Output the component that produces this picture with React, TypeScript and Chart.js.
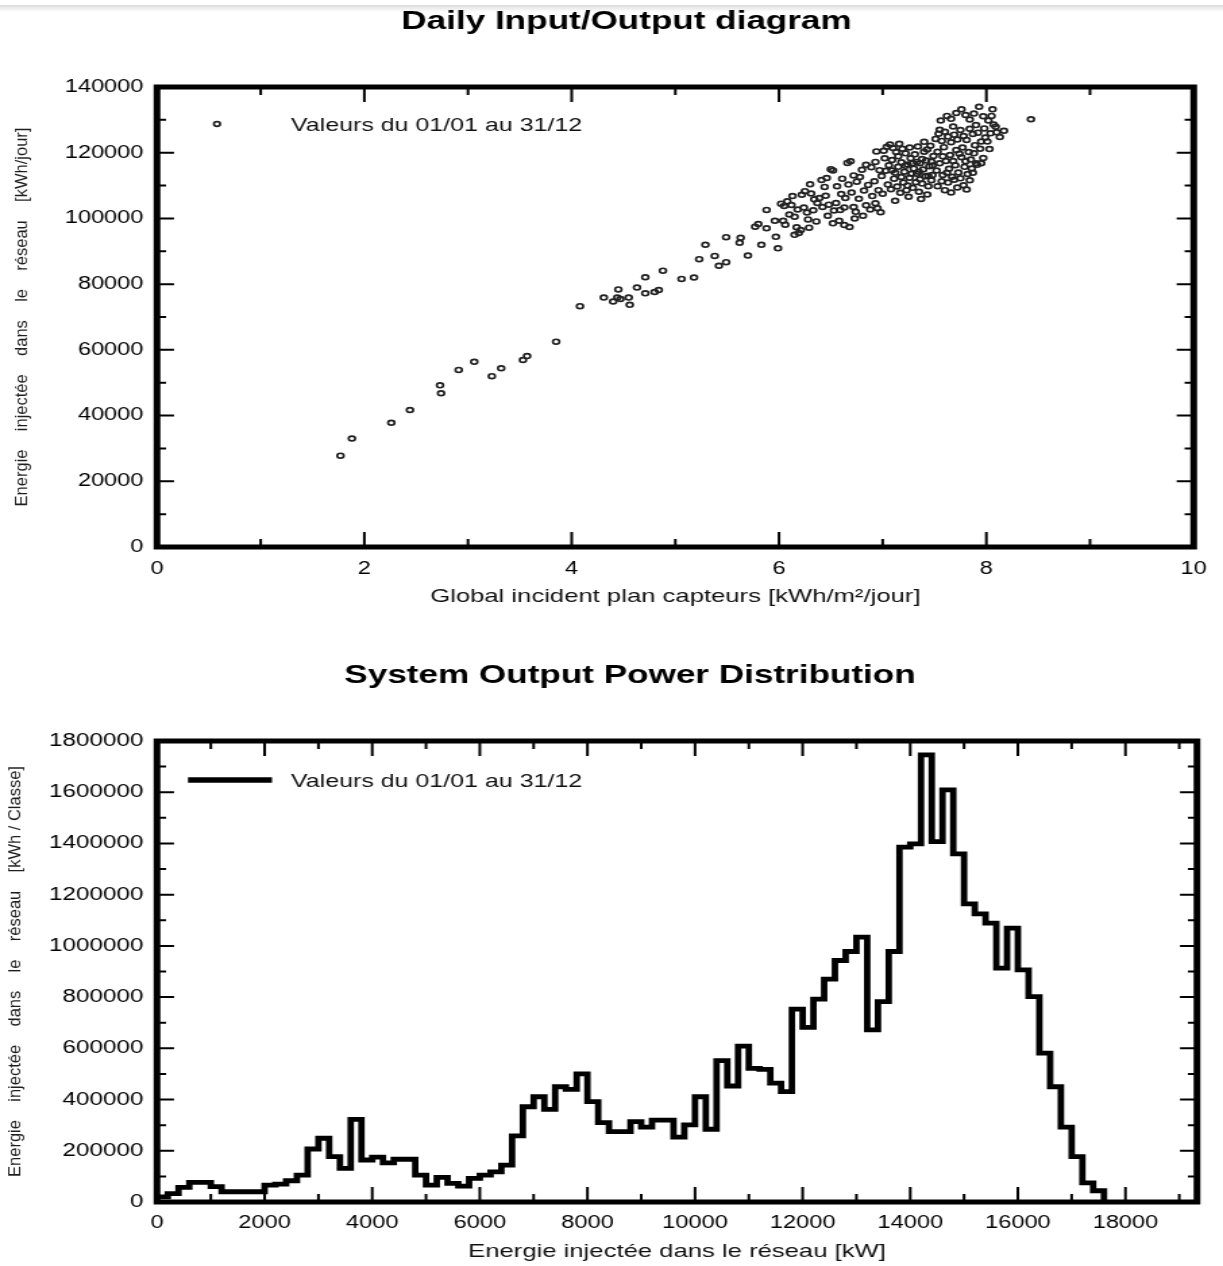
import React, { useEffect, useRef } from "react";
import { Chart, registerables } from "chart.js";

Chart.register(...registerables);

const PAGE_W = 1223;
const INNER_W = 906;
const SX = PAGE_W / INNER_W;
const ix = (px: number) => px / SX;
const FONT = "'Liberation Sans', Arial, Helvetica, sans-serif";

// ---------------- Daily Input/Output diagram ----------------
const dailyTitle = "Daily Input/Output diagram";
const dailyXTitle = "Global incident plan capteurs [kWh/m²/jour]";
const dailyYTitle = "Energie    injectée    dans    le    réseau    [kWh/jour]";
const legendLabel = "Valeurs du 01/01 au 31/12";
const dailyXTicks = [0, 2, 4, 6, 8, 10];
const dailyYTicks = [0, 20000, 40000, 60000, 80000, 100000, 120000, 140000];

// [global incident kWh/m²/day, energy injected kWh/day]
const sparseDays: [number, number][] = [
  [1.77, 27800], [1.88, 33000], [2.26, 37800], [2.44, 41700], [2.73, 49200], [2.74, 46800],
  [2.91, 53900], [3.06, 56400], [3.23, 52000], [3.32, 54400], [3.53, 56900], [3.57, 58100],
  [3.85, 62500], [4.08, 73300], [4.31, 75900], [4.40, 74700], [4.45, 78400], [4.44, 75900],
  [4.47, 75500], [4.55, 75900], [4.56, 73700], [4.63, 79000], [4.71, 82100], [4.71, 77200],
  [4.80, 77600], [4.84, 78200], [4.88, 84100], [5.06, 81600], [5.18, 82000], [5.23, 87600],
  [5.29, 92000], [5.38, 88600], [5.42, 85600], [5.49, 86700], [5.49, 94300], [5.62, 92600],
  [5.63, 94100], [5.70, 88700], [5.77, 97500], [5.80, 98300], [5.83, 92000], [5.88, 102600],
  [5.88, 97000], [5.96, 99300], [5.97, 94400], [5.99, 90900],
];
const band60: [number, number][] = [
  [6.02, 104500], [6.05, 103800], [6.08, 105200], [6.12, 104100], [6.04, 99300], [6.06, 98100],
  [6.15, 100500], [6.17, 97300], [6.19, 95600], [6.15, 95000], [6.21, 96500], [6.22, 107200],
  [6.25, 108300], [6.31, 107600], [6.28, 99700], [6.29, 97200], [6.27, 101800], [6.34, 105800],
  [6.37, 104700], [6.39, 106200], [6.41, 111700], [6.44, 109600], [6.46, 112300], [6.50, 115000],
  [6.52, 114600], [6.33, 102500], [6.36, 99100], [6.42, 103500], [6.45, 106900], [6.48, 104200],
  [6.10, 101200], [6.24, 103300], [6.13, 106800], [6.18, 102700], [6.30, 110400], [6.47, 100800],
];
const band65: [number, number][] = [
  [6.52, 98500], [6.58, 99300], [6.63, 98000], [6.68, 97400], [6.73, 100000], [6.55, 104700],
  [6.60, 107400], [6.64, 106200], [6.70, 107900], [6.66, 116900], [6.69, 117400], [6.72, 113100],
  [6.75, 111200], [6.78, 112600], [6.72, 103500], [6.74, 102000], [6.80, 114800], [6.84, 116300],
  [6.89, 115600], [6.93, 117200], [6.97, 114700], [6.86, 110200], [6.90, 106800], [6.93, 104600],
  [6.95, 103100], [6.98, 101900], [6.88, 102700], [6.96, 108600], [7.00, 107500], [6.82, 108500],
  [6.56, 109800], [6.61, 112100], [6.67, 110300], [6.77, 106000], [6.84, 104000], [6.92, 111300],
  [6.99, 112900], [6.53, 102400], [6.59, 102600], [6.81, 100800], [6.94, 120400], [6.63, 103300],
];
const band70: [number, number][] = [
  [7.01, 120600], [7.04, 121800], [7.07, 122500], [7.10, 121400], [7.13, 120200], [7.16, 122700],
  [7.19, 121200], [7.22, 119800], [7.26, 121600], [7.03, 114500], [7.06, 116200], [7.09, 117800],
  [7.12, 113900], [7.15, 115700], [7.18, 117100], [7.21, 114200], [7.24, 116400], [7.27, 118300],
  [7.30, 115200], [7.33, 113600], [7.36, 116800], [7.39, 114900], [7.42, 117600], [7.45, 115900],
  [7.48, 113200], [7.05, 110300], [7.08, 108900], [7.11, 112100], [7.14, 109700], [7.17, 107800],
  [7.20, 110900], [7.23, 108600], [7.26, 112400], [7.29, 109300], [7.32, 111000], [7.35, 108100],
  [7.38, 110600], [7.41, 112800], [7.44, 109800], [7.47, 111600], [7.12, 105400], [7.25, 106600],
  [7.37, 105900], [7.43, 107300], [7.31, 119500], [7.34, 121900], [7.40, 120300], [7.46, 122100],
  [7.49, 119000], [7.02, 118300], [7.28, 113600], [7.33, 117200], [7.44, 113000], [7.36, 111900],
  [7.18, 112600], [7.22, 116000], [7.15, 118900], [7.47, 117300], [7.09, 114600], [7.40, 123300],
  [7.24, 110000], [7.29, 116800], [7.38, 118100], [7.43, 121000], [7.48, 116100], [7.35, 114200],
];
const band75: [number, number][] = [
  [7.51, 124200], [7.54, 125800], [7.57, 123600], [7.60, 126400], [7.63, 124900], [7.66, 123200],
  [7.69, 125500], [7.72, 124000], [7.75, 126900], [7.78, 125100], [7.81, 123900], [7.84, 127300],
  [7.87, 125700], [7.90, 128400], [7.56, 129800], [7.62, 131200], [7.66, 130300], [7.71, 132100],
  [7.76, 133200], [7.80, 131500], [7.84, 130100], [7.88, 131900], [7.93, 134000], [7.97, 131100],
  [7.52, 114600], [7.55, 116800], [7.58, 113200], [7.61, 117500], [7.64, 115100], [7.67, 112700],
  [7.70, 116200], [7.73, 114000], [7.76, 118600], [7.79, 115700], [7.82, 113500], [7.85, 117900],
  [7.88, 119800], [7.91, 116300], [7.94, 121200], [7.97, 118400], [7.53, 109800], [7.57, 111300],
  [7.60, 108600], [7.63, 110900], [7.66, 107900], [7.69, 111800], [7.72, 109400], [7.75, 112200],
  [7.78, 110100], [7.81, 108800], [7.84, 111600], [7.87, 113900], [7.90, 116800], [7.53, 120300],
  [7.59, 121700], [7.65, 119300], [7.71, 120800], [7.77, 121600], [7.83, 120200], [7.89, 122300],
  [7.95, 123400], [7.99, 124600], [7.58, 118900], [7.68, 117500], [7.74, 119700], [7.62, 113900],
  [7.86, 115200], [7.80, 117400], [7.92, 126100], [7.98, 127400], [7.55, 127000], [7.68, 128000],
];
const band80: [number, number][] = [
  [8.01, 123400], [8.04, 125900], [8.07, 128600], [8.10, 126200], [8.13, 124800], [8.17, 126700],
  [8.02, 129800], [8.05, 131200], [8.09, 127900], [8.03, 121100], [7.95, 116800], [8.43, 130200],
  [8.06, 133200],
];

// ---------------- System Output Power Distribution ----------------
const powerTitle = "System Output Power Distribution";
const powerXTitle = "Energie injectée dans le réseau [kW]";
const powerYTitle = "Energie    injectée    dans    le    réseau    [kWh / Classe]";
const powerClassWidth = 200; // kW per class
const powerClassEnergy = [
  20000, 33000, 57000, 77000, 77000, 60000, 40000, 40000, 40000, 40000,
  66000, 70000, 83000, 105000, 207000, 249000, 177000, 131000, 323000, 164000,
  175000, 153000, 167000, 167000, 105000, 66000, 96000, 73000, 62000, 92000,
  105000, 118000, 144000, 258000, 372000, 411000, 362000, 450000, 440000, 500000,
  392000, 310000, 275000, 275000, 314000, 292000, 320000, 320000, 253000, 301000,
  411000, 284000, 552000, 453000, 609000, 522000, 518000, 464000, 431000, 753000,
  682000, 792000, 870000, 943000, 978000, 1034000, 672000, 782000, 978000, 1386000,
  1398000, 1746000, 1407000, 1609000, 1359000, 1164000, 1125000, 1089000, 913000, 1069000,
  906000, 802000, 581000, 450000, 292000, 177000, 75000, 44000,
];
const powerXMax = 19330;
const powerXTicks = [0, 2000, 4000, 6000, 8000, 10000, 12000, 14000, 16000, 18000];
const powerYTicks = [0, 200000, 400000, 600000, 800000, 1000000, 1200000, 1400000, 1600000, 1800000];

// ---------------- helpers ----------------
const minorsOf = (majors: number[], max: number) => {
  const step = majors[1] - majors[0];
  return majors.map((v) => v + step / 2).filter((v) => v < max);
};

function makeFrame(xMajor: number[], xMinor: number[], yMajor: number[], yMinor: number[]) {
  return {
    id: "pvFrame",
    afterDatasetsDraw(chart: any) {
      const { ctx, chartArea } = chart;
      const { left, right, top, bottom } = chartArea;
      const xs = chart.scales.x;
      const ys = chart.scales.y;
      ctx.save();
      ctx.strokeStyle = "#000";
      ctx.lineCap = "butt";
      ctx.lineWidth = 2;
      const xt = (v: number, len: number) => {
        const p = xs.getPixelForValue(v);
        ctx.beginPath();
        ctx.moveTo(p, bottom);
        ctx.lineTo(p, bottom - len);
        ctx.moveTo(p, top);
        ctx.lineTo(p, top + len);
        ctx.stroke();
      };
      const yt = (v: number, len: number) => {
        const p = ys.getPixelForValue(v);
        ctx.beginPath();
        ctx.moveTo(left, p);
        ctx.lineTo(left + len, p);
        ctx.moveTo(right, p);
        ctx.lineTo(right - len, p);
        ctx.stroke();
      };
      xMajor.forEach((v) => xt(v, 15));
      xMinor.forEach((v) => xt(v, 8));
      yMajor.forEach((v) => yt(v, 12.6));
      yMinor.forEach((v) => yt(v, 6.7));
      ctx.lineWidth = 5;
      ctx.lineJoin = "miter";
      ctx.strokeRect(left, top, right - left, bottom - top);
      ctx.restore();
    },
  };
}

function makeDecor(cfg: {
  title: string;
  titleX: number;
  titleY: number;
  yTitle: string;
  yTitleX: number;
  legend: "point" | "line";
  legendY: number;
}) {
  return {
    id: "pvDecor",
    afterDraw(chart: any) {
      const { ctx, chartArea } = chart;
      ctx.save();
      // main title
      ctx.fillStyle = "#000";
      ctx.font = `bold 26px ${FONT}`;
      ctx.textAlign = "center";
      ctx.textBaseline = "middle";
      ctx.fillText(cfg.title, ix(cfg.titleX), cfg.titleY);
      // legend
      if (cfg.legend === "point") {
        ctx.beginPath();
        ctx.strokeStyle = "#222";
        ctx.lineWidth = 1.7;
        ctx.arc(ix(217), cfg.legendY - 2, 2.3, 0, Math.PI * 2);
        ctx.stroke();
      } else {
        ctx.beginPath();
        ctx.strokeStyle = "#000";
        ctx.lineWidth = 5.5;
        ctx.moveTo(ix(188), cfg.legendY - 2);
        ctx.lineTo(ix(272), cfg.legendY - 2);
        ctx.stroke();
      }
      ctx.fillStyle = "#111";
      ctx.font = `18.5px ${FONT}`;
      ctx.textAlign = "left";
      ctx.textBaseline = "middle";
      ctx.fillText(legendLabel, ix(291), cfg.legendY);
      // rotated y title (not stretched)
      ctx.translate(ix(cfg.yTitleX), (chartArea.top + chartArea.bottom) / 2);
      ctx.scale(1 / SX, 1);
      ctx.rotate(-Math.PI / 2);
      ctx.font = `16.5px ${FONT}`;
      ctx.fillStyle = "#1e1e1e";
      ctx.textAlign = "center";
      ctx.textBaseline = "middle";
      ctx.fillText(cfg.yTitle, 0, 0);
      ctx.restore();
    },
  };
}

const tickFont = { family: FONT, size: 17.5 };
const titleFont = { family: FONT, size: 19 };

function axisX(min: number, max: number, ticks: number[], title: string, height: number, pad: number, titlePad: number) {
  return {
    type: "linear" as const,
    min,
    max,
    grid: { display: false, drawTicks: false },
    border: { display: false },
    afterBuildTicks: (s: any) => {
      s.ticks = ticks.map((v) => ({ value: v }));
    },
    afterFit: (s: any) => {
      s.height = height;
    },
    ticks: {
      padding: pad,
      font: tickFont,
      color: "#000",
      autoSkip: false,
      maxRotation: 0,
      callback: (v: any) => String(v),
    },
    title: { display: true, text: title, font: titleFont, color: "#111", padding: { top: 0, bottom: titlePad } },
  };
}

function axisY(max: number, ticks: number[], fontSize: number) {
  return {
    type: "linear" as const,
    min: 0,
    max,
    grid: { display: false, drawTicks: false },
    border: { display: false },
    afterBuildTicks: (s: any) => {
      s.ticks = ticks.map((v) => ({ value: v }));
    },
    afterFit: (s: any) => {
      s.width = ix(157);
    },
    ticks: {
      padding: 10,
      font: { family: FONT, size: fontSize },
      color: "#000",
      autoSkip: false,
      callback: (v: any) => String(v),
    },
  };
}

const TOP_H = 620;
const BOT_H = 646;

export default function App() {
  const topRef = useRef<HTMLCanvasElement | null>(null);
  const botRef = useRef<HTMLCanvasElement | null>(null);

  useEffect(() => {
    if (!topRef.current || !botRef.current) return;
    const dailyPoints = [...sparseDays, ...band60, ...band65, ...band70, ...band75, ...band80].map(([x, y]) => ({ x, y }));

    const topChart = new Chart(topRef.current, {
      type: "scatter",
      data: {
        datasets: [
          {
            data: dailyPoints,
            pointRadius: 2.4,
            pointBorderWidth: 1.7,
            pointBorderColor: "#222",
            pointBackgroundColor: "rgba(0,0,0,0)",
            showLine: false,
          },
        ],
      },
      options: {
        responsive: false,
        animation: false,
        events: [],
        layout: { padding: { top: 87, left: 0, right: INNER_W - ix(1197), bottom: 0 } },
        plugins: { legend: { display: false }, tooltip: { enabled: false }, title: { display: false } },
        scales: {
          x: axisX(0, 10, dailyXTicks, dailyXTitle, TOP_H - 547, 12, 11.6),
          y: axisY(140000, dailyYTicks, 17.5),
        },
      },
      plugins: [
        makeFrame(dailyXTicks, minorsOf(dailyXTicks, 10), dailyYTicks, minorsOf(dailyYTicks, 140000)),
        makeDecor({ title: dailyTitle, titleX: 626.5, titleY: 22, yTitle: dailyYTitle, yTitleX: 22.5, legend: "point", legendY: 126 }),
      ],
    } as any);

    const histPoints = [
      { x: 0, y: 0 },
      ...powerClassEnergy.map((v, i) => ({ x: i * powerClassWidth, y: v })),
      { x: powerClassEnergy.length * powerClassWidth, y: 0 },
    ];

    const botChart = new Chart(botRef.current, {
      type: "line",
      data: {
        datasets: [
          {
            data: histPoints,
            stepped: "before",
            borderColor: "#000",
            borderWidth: 4.8,
            borderJoinStyle: "miter",
            borderCapStyle: "butt",
            pointRadius: 0,
            fill: false,
            tension: 0,
          },
        ],
      },
      options: {
        responsive: false,
        animation: false,
        events: [],
        layout: { padding: { top: 741 - TOP_H, left: 0, right: INNER_W - ix(1197), bottom: 0 } },
        plugins: { legend: { display: false }, tooltip: { enabled: false }, title: { display: false } },
        scales: {
          x: axisX(0, powerXMax, powerXTicks, powerXTitle, TOP_H + BOT_H - 1202, 10.5, 2.6),
          y: axisY(1800000, powerYTicks, 18),
        },
      },
      plugins: [
        makeFrame(powerXTicks, minorsOf(powerXTicks, powerXMax), powerYTicks, minorsOf(powerYTicks, 1800000)),
        makeDecor({ title: powerTitle, titleX: 630, titleY: 676 - TOP_H, yTitle: powerYTitle, yTitleX: 15.5, legend: "line", legendY: 782 - TOP_H }),
      ],
    } as any);

    return () => {
      topChart.destroy();
      botChart.destroy();
    };
  }, []);

  return (
    <div style={{ position: "absolute", left: 0, top: 0, width: PAGE_W, height: 1266, background: "#fff", overflow: "hidden" }}>
      <div style={{ position: "absolute", left: 0, top: 5, width: PAGE_W, height: 7, background: "linear-gradient(to bottom, #dcdcdc, #ffffff)" }} />
      <canvas
        ref={topRef}
        width={INNER_W}
        height={TOP_H}
        style={{ position: "absolute", left: 0, top: 0, width: `${PAGE_W}px`, height: `${TOP_H}px` }}
      />
      <canvas
        ref={botRef}
        width={INNER_W}
        height={BOT_H}
        style={{ position: "absolute", left: 0, top: TOP_H, width: `${PAGE_W}px`, height: `${BOT_H}px` }}
      />
    </div>
  );
}
